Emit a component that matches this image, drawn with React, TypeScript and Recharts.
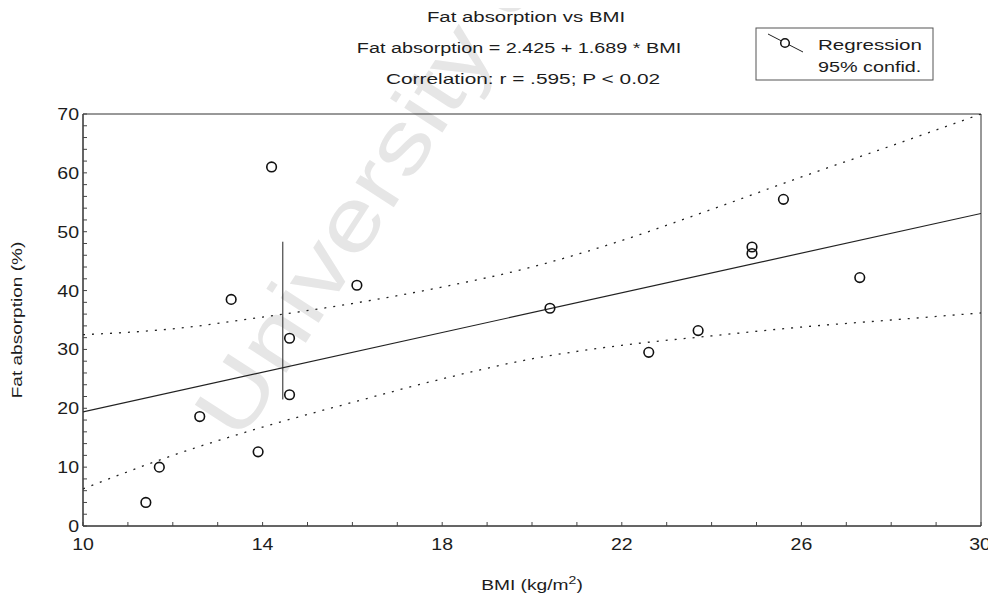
import React from 'react';
import {
  ComposedChart,
  XAxis,
  YAxis,
  Line,
  Scatter,
  ReferenceLine,
  ReferenceArea,
} from 'recharts';

// ---- data ----
const bmi = [11.4, 11.7, 12.6, 13.3, 13.9, 14.2, 14.6, 14.6, 16.1, 20.4, 22.6, 23.7, 24.9, 24.9, 25.6, 27.3];
const fatAbsorption = [4.0, 10.0, 18.6, 38.5, 12.6, 61.0, 31.9, 22.3, 40.9, 37.0, 29.5, 33.2, 47.4, 46.3, 55.5, 42.2];

const regressionX = [10, 30];
const regressionY = [19.4, 53.1];

const bandX = [10, 12, 14, 16, 18, 20, 22, 24, 26, 28, 30];
const upperBand = [32.5, 33.5, 35.5, 37.8, 40.6, 44.0, 48.5, 53.8, 59.3, 64.6, 70.0];
const lowerBand = [6.3, 12.0, 16.8, 21.0, 25.0, 28.4, 30.7, 32.3, 33.8, 35.0, 36.2];

const markerX = 14.45;
const markerY = [21.5, 48.3];

const xTicks = [10, 11, 12, 13, 14, 15, 16, 17, 18, 19, 20, 21, 22, 23, 24, 25, 26, 27, 28, 29, 30];
const xTickLabels = [10, 14, 18, 22, 26, 30];
const yTicks = [0, 2, 4, 6, 8, 10, 12, 14, 16, 18, 20, 22, 24, 26, 28, 30, 32, 34, 36, 38, 40, 42, 44, 46, 48, 50, 52, 54, 56, 58, 60, 62, 64, 66, 68, 70];
const yTickLabels = [0, 10, 20, 30, 40, 50, 60, 70];

const titleLines = [
  'Fat absorption vs BMI',
  'Fat absorption = 2.425 + 1.689 * BMI',
  'Correlation: r = .595; P < 0.02',
];
const legendLabels = ['Regression', '95% confid.'];
const xTitle = 'BMI (kg/m';
const yTitle = 'Fat absorption (%)';
const watermark = 'University of';

// ---- derived tables ----
const points = bmi.map((x, i) => ({ x, y: fatAbsorption[i] }));
const regression = regressionX.map((x, i) => ({ x, y: regressionY[i] }));
const upper = bandX.map((x, i) => ({ x, y: upperBand[i] }));
const lower = bandX.map((x, i) => ({ x, y: lowerBand[i] }));

const FONT = '"Liberation Sans", Arial, sans-serif';
const INK = '#1c1c1c';
const STRETCH = 1.22;

const XTick = (props: any) => {
  const { x, y, payload } = props;
  const v = payload.value;
  return (
    <g>
      <line x1={x} x2={x} y1={y} y2={y - 4} stroke="#444" strokeWidth={1} />
      {xTickLabels.includes(v) && (
        <text
          transform={`translate(${v === 30 ? x - 1 : x},${y + 24}) scale(${STRETCH},1)`}
          textAnchor="middle"
          fontSize={16}
          fontFamily={FONT}
          fill={INK}
        >
          {v}
        </text>
      )}
    </g>
  );
};

const YTick = (props: any) => {
  const { x, y, payload } = props;
  const v = payload.value;
  return (
    <g>
      <line x1={x} x2={x + 4} y1={y} y2={y} stroke="#444" strokeWidth={1} />
      {yTickLabels.includes(v) && (
        <text
          transform={`translate(${x - 4},${y + 6}) scale(${STRETCH},1)`}
          textAnchor="end"
          fontSize={16}
          fontFamily={FONT}
          fill={INK}
        >
          {v}
        </text>
      )}
    </g>
  );
};

const Circle = (props: any) => {
  const { cx, cy } = props;
  return <circle cx={cx} cy={cy} r={4.8} fill="none" stroke="#111" strokeWidth={1.6} />;
};

export default function App() {
  return (
    <div
      style={{
        position: 'relative',
        width: 996,
        height: 602,
        margin: '-8px 0 -8px -8px',
        background: '#fff',
        overflow: 'hidden',
      }}
    >
      <svg
        width={996}
        height={602}
        style={{ position: 'absolute', left: 0, top: 0 }}
      >
        <text
          x={0}
          y={0}
          transform={`translate(240,444) rotate(-57) scale(1.25,1)`}
          fontSize={86}
          fontFamily={FONT}
          fill="#e6e6e6"
        >
          {watermark}
        </text>
      </svg>
      <div style={{ position: 'absolute', left: 0, top: 0 }}>
        <ComposedChart
          width={996}
          height={602}
          margin={{ top: 114, right: 15, bottom: 0, left: 0 }}
        >
          <XAxis
            dataKey="x"
            type="number"
            domain={[10, 30]}
            ticks={xTicks}
            interval={0}
            tick={<XTick />}
            tickLine={false}
            tickSize={0}
            tickMargin={0}
            height={76}
            axisLine={{ stroke: '#333' }}
            allowDataOverflow
          />
          <YAxis
            dataKey="y"
            type="number"
            domain={[0, 70]}
            ticks={yTicks}
            interval={0}
            tick={<YTick />}
            tickLine={false}
            tickSize={0}
            tickMargin={0}
            width={83}
            axisLine={{ stroke: '#333' }}
            allowDataOverflow
          />
          <ReferenceArea
            x1={10}
            x2={30}
            y1={0}
            y2={70}
            fill="none"
            fillOpacity={0}
            stroke="#333"
            strokeWidth={1}
          />
          <Line
            data={upper}
            dataKey="y"
            type="monotone"
            dot={false}
            stroke="#222"
            strokeWidth={1.3}
            strokeDasharray="2 7"
            isAnimationActive={false}
          />
          <Line
            data={lower}
            dataKey="y"
            type="monotone"
            dot={false}
            stroke="#222"
            strokeWidth={1.3}
            strokeDasharray="2 7"
            isAnimationActive={false}
          />
          <Line
            data={regression}
            dataKey="y"
            type="linear"
            dot={false}
            stroke="#222"
            strokeWidth={1.2}
            isAnimationActive={false}
          />
          <ReferenceLine
            segment={[
              { x: markerX, y: markerY[0] },
              { x: markerX, y: markerY[1] },
            ]}
            stroke="#222"
            strokeWidth={1}
          />
          <Scatter data={points} dataKey="y" shape={<Circle />} isAnimationActive={false} />
        </ComposedChart>
      </div>
      <svg
        width={996}
        height={602}
        style={{ position: 'absolute', left: 0, top: 0, pointerEvents: 'none' }}
      >
        <g fontFamily={FONT} fill={INK} fontSize={15}>
          <text transform={`translate(526,22) scale(1.36,1)`} textAnchor="middle">
            {titleLines[0]}
          </text>
          <text transform={`translate(519,53) scale(1.32,1)`} textAnchor="middle">
            {titleLines[1]}
          </text>
          <text transform={`translate(523,84) scale(1.39,1)`} textAnchor="middle">
            {titleLines[2]}
          </text>

          <rect x={756} y={28} width={177} height={52} fill="#fff" stroke="#555" strokeWidth={1} />
          <line x1={768} y1={34} x2={803} y2={52} stroke="#222" strokeWidth={1} />
          <circle cx={785} cy={43} r={4.3} fill="#fff" stroke="#111" strokeWidth={1.5} />
          <text transform={`translate(818,50) scale(1.37,1)`} textAnchor="start">
            {legendLabels[0]}
          </text>
          <text transform={`translate(818,72) scale(1.32,1)`} textAnchor="start">
            {legendLabels[1]}
          </text>

          <text transform={`translate(22,320) rotate(-90) scale(1.27,1)`} textAnchor="middle">
            {yTitle}
          </text>
          <text transform={`translate(532,590) scale(1.28,1)`} textAnchor="middle">
            {xTitle}
            <tspan fontSize={11} dy={-6}>2</tspan>
            <tspan dy={6}>)</tspan>
          </text>
        </g>
      </svg>
    </div>
  );
}
